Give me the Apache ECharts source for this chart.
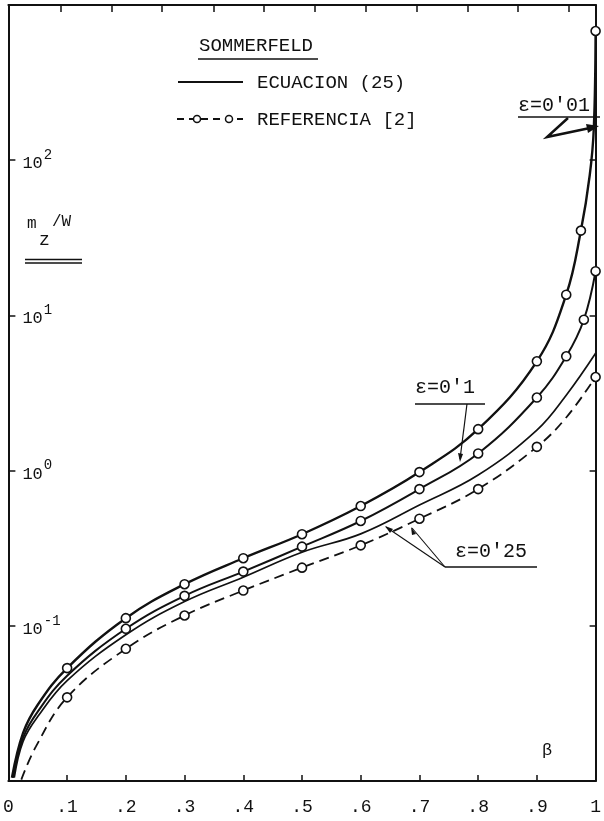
<!DOCTYPE html>
<html><head><meta charset="utf-8">
<script src="https://cdn.jsdelivr.net/npm/echarts@6/dist/echarts.min.js"></script>
<style>html,body{margin:0;padding:0;background:#fff}#c{width:604px;height:821px}</style>
</head><body><div id="c"></div>
<script>
// ---- data ----
const xTickLabels = ['0', '.1', '.2', '.3', '.4', '.5', '.6', '.7', '.8', '.9', '1'];
// tick marks along the top frame (they do not line up with the bottom ticks in the original)
const topTickBeta = [0.089, 0.176, 0.262, 0.349, 0.435, 0.522, 0.608, 0.695, 0.782, 0.868, 0.955];

// ECUACION (25) solid curves
const betaSolid001 = [0.006, 0.025, 0.05, 0.1, 0.2, 0.3, 0.4, 0.5, 0.6, 0.7, 0.8, 0.9, 0.95, 0.975, 0.99, 0.997, 1.0];
const valSolid001  = [0.0105, 0.0204, 0.031, 0.0534, 0.112, 0.1854, 0.2725, 0.389, 0.591, 0.978, 1.849, 5.06, 13.6, 35.2, 80, 162, 680];

const betaSolid01 = [0.008, 0.025, 0.05, 0.1, 0.2, 0.3, 0.4, 0.5, 0.6, 0.7, 0.8, 0.9, 0.95, 0.98, 1.0];
const valSolid01  = [0.0105, 0.019, 0.028, 0.0477, 0.0957, 0.156, 0.2235, 0.3236, 0.4735, 0.760, 1.29, 2.956, 5.45, 9.38, 19.27];

const betaSolid025 = [0.01, 0.025, 0.05, 0.1, 0.2, 0.3, 0.4, 0.5, 0.6, 0.7, 0.8, 0.9, 0.95, 1.0];
const valSolid025  = [0.0105, 0.018, 0.026, 0.0443, 0.0875, 0.1433, 0.2057, 0.2978, 0.391, 0.600, 0.936, 1.822, 3.06, 5.70];

// REFERENCIA [2] points
const betaRef001 = [0.1, 0.2, 0.3, 0.4, 0.5, 0.6, 0.7, 0.8, 0.9, 0.95, 0.975, 1.0];
const valRef001  = [0.0534, 0.112, 0.1854, 0.2725, 0.389, 0.591, 0.978, 1.849, 5.06, 13.59, 35.2, 680];

const betaRef01 = [0.2, 0.3, 0.4, 0.5, 0.6, 0.7, 0.8, 0.9, 0.95, 0.98, 1.0];
const valRef01  = [0.0957, 0.156, 0.2235, 0.3236, 0.4735, 0.760, 1.29, 2.956, 5.45, 9.38, 19.27];

const betaRef025 = [0.1, 0.2, 0.3, 0.4, 0.5, 0.6, 0.7, 0.8, 0.9, 1.0];
const valRef025  = [0.0346, 0.0711, 0.1165, 0.1687, 0.237, 0.330, 0.4898, 0.760, 1.422, 4.01];

// dashed reference curve (eps = 0.25) including its lead-in and intermediate point
const betaDash025 = [0.022, 0.047, 0.1, 0.2, 0.3, 0.4, 0.5, 0.6, 0.7, 0.8, 0.9, 0.95, 1.0];
const valDash025  = [0.0102, 0.0167, 0.0346, 0.0711, 0.1165, 0.1687, 0.237, 0.330, 0.4898, 0.760, 1.422, 2.2, 4.01];

// ---- build ----
const zip = (a, b) => a.map((x, i) => [x, b[i]]);
const INK = '#111';
const FONT = '"Liberation Mono", "DejaVu Sans Mono", monospace';

const chart = echarts.init(document.getElementById('c'), null, {renderer: 'canvas'});

const solid = (name, data, w) => ({
  name, type: 'line', data, showSymbol: false, smooth: 0.4,
  lineStyle: {color: INK, width: w}, z: 3, silent: true
});
const circles = (name, data) => ({
  name, type: 'scatter', data, symbol: 'circle', symbolSize: 9,
  itemStyle: {color: '#fff', borderColor: INK, borderWidth: 1.6, opacity: 1}, z: 5, silent: true
});

function exp10(v) { return Math.round(Math.log10(v)); }

const option = {
  backgroundColor: '#fff',
  animation: false,
  grid: {left: 5, right: 4, top: 5, bottom: 40},
  xAxis: [{
    type: 'value', min: 0, max: 1, interval: 0.1, position: 'bottom',
    axisLine: {show: true, lineStyle: {color: INK, width: 2}},
    axisTick: {show: true, inside: true, length: 6, lineStyle: {color: INK, width: 1.5}},
    splitLine: {show: false},
    axisLabel: {
      margin: 17, color: INK, fontFamily: FONT, fontSize: 18,
      formatter: v => xTickLabels[Math.round(v * 10)] || ''
    }
  }, {
    type: 'value', min: 0, max: 1, interval: 0.1, position: 'top',
    axisLine: {show: true, onZero: false, lineStyle: {color: INK, width: 2}},
    axisTick: {show: true, inside: true, length: 7, customValues: topTickBeta, lineStyle: {color: INK, width: 1.5}},
    splitLine: {show: false}, axisLabel: {show: false}
  }],
  yAxis: [{
    type: 'log', logBase: 10, min: 0.01, max: 1000, position: 'left',
    axisLine: {show: true, lineStyle: {color: INK, width: 2}},
    axisTick: {show: true, inside: true, length: 7, lineStyle: {color: INK, width: 1.5}},
    splitLine: {show: false},
    minorTick: {show: false},
    axisLabel: {
      inside: true, margin: 14, color: INK, fontFamily: FONT,
      formatter: v => {
        const e = exp10(v);
        if (e < -1 || e > 2) return '';
        return '{b|10}{s|' + e + '}';
      },
      rich: {
        b: {fontFamily: FONT, fontSize: 17, color: INK, lineHeight: 24, verticalAlign: 'bottom'},
        s: {fontFamily: FONT, fontSize: 14, color: INK, lineHeight: 24, verticalAlign: 'top', padding: [0, 0, 0, 1]}
      }
    }
  }, {
    type: 'log', logBase: 10, min: 0.01, max: 1000, position: 'right',
    axisLine: {show: true, onZero: false, lineStyle: {color: INK, width: 2}},
    axisTick: {show: true, inside: true, length: 6, lineStyle: {color: INK, width: 1.5}},
    splitLine: {show: false}, axisLabel: {show: false}
  }],
  series: [
    solid('ECUACION (25) ε=0\'01', zip(betaSolid001, valSolid001), 2.4),
    solid('ECUACION (25) ε=0\'1', zip(betaSolid01, valSolid01), 2),
    solid('ECUACION (25) ε=0\'25', zip(betaSolid025, valSolid025), 1.7),
    {
      name: 'REFERENCIA [2] ε=0\'25 (curva)', type: 'line', data: zip(betaDash025, valDash025),
      showSymbol: false, smooth: 0.4, silent: true, z: 3,
      lineStyle: {color: INK, width: 1.8, type: [10, 6]}
    },
    circles('REFERENCIA [2] ε=0\'01', zip(betaRef001, valRef001)),
    circles('REFERENCIA [2] ε=0\'1', zip(betaRef01, valRef01)),
    circles('REFERENCIA [2] ε=0\'25', zip(betaRef025, valRef025))
  ],
  graphic: [
    // title + legend
    {type: 'text', left: 199, top: 36, style: {text: 'SOMMERFELD', font: '19px ' + FONT, fill: INK}},
    {type: 'line', shape: {x1: 198, y1: 59, x2: 318, y2: 59}, style: {stroke: INK, lineWidth: 1.5}},
    {type: 'line', shape: {x1: 178, y1: 82, x2: 243, y2: 82}, style: {stroke: INK, lineWidth: 2}},
    {type: 'text', left: 257, top: 73, style: {text: 'ECUACION (25)', font: '19px ' + FONT, fill: INK}},
    {type: 'line', shape: {x1: 177, y1: 119, x2: 243, y2: 119}, style: {stroke: INK, lineWidth: 1.8, lineDash: [7, 5]}},
    {type: 'circle', shape: {cx: 197, cy: 119, r: 3.5}, style: {fill: '#fff', stroke: INK, lineWidth: 1.5}},
    {type: 'circle', shape: {cx: 229, cy: 119, r: 3.5}, style: {fill: '#fff', stroke: INK, lineWidth: 1.5}},
    {type: 'text', left: 257, top: 110, style: {text: 'REFERENCIA [2]', font: '19px ' + FONT, fill: INK}},
    // y-axis title m_z/W
    {type: 'text', left: 27, top: 216, style: {text: 'm', font: '16px ' + FONT, fill: INK}},
    {type: 'text', left: 39, top: 231, style: {text: 'z', font: '18px ' + FONT, fill: INK}},
    {type: 'text', left: 52, top: 214, style: {text: '/W', font: '16px ' + FONT, fill: INK}},
    {type: 'line', shape: {x1: 25, y1: 259.5, x2: 82, y2: 259.5}, style: {stroke: INK, lineWidth: 1.3}},
    {type: 'line', shape: {x1: 25, y1: 263, x2: 82, y2: 263}, style: {stroke: INK, lineWidth: 1.3}},
    // eps = 0'01 label and zigzag arrow
    {type: 'text', left: 518, top: 96, style: {text: "ε=0'01", font: '20px ' + FONT, fill: INK}},
    {type: 'line', shape: {x1: 518, y1: 117, x2: 600, y2: 117}, style: {stroke: INK, lineWidth: 1.5}},
    {type: 'polyline', shape: {points: [[568, 118], [547, 137], [590, 128]]}, style: {stroke: INK, lineWidth: 2.5, fill: null}},
    {type: 'polygon', shape: {points: [[599, 126], [586, 124], [588, 133]]}, style: {fill: INK}},
    // eps = 0'1
    {type: 'text', left: 415, top: 378, style: {text: "ε=0'1", font: '20px ' + FONT, fill: INK}},
    {type: 'line', shape: {x1: 415, y1: 404, x2: 485, y2: 404}, style: {stroke: INK, lineWidth: 1.5}},
    {type: 'line', shape: {x1: 467, y1: 404, x2: 460, y2: 459}, style: {stroke: INK, lineWidth: 1.2}},
    {type: 'polygon', shape: {points: [[460, 462], [458, 453], [463, 454]]}, style: {fill: INK}},
    // eps = 0'25
    {type: 'text', left: 455, top: 542, style: {text: "ε=0'25", font: '20px ' + FONT, fill: INK}},
    {type: 'line', shape: {x1: 445, y1: 567, x2: 537, y2: 567}, style: {stroke: INK, lineWidth: 1.5}},
    {type: 'line', shape: {x1: 445, y1: 567, x2: 386, y2: 527}, style: {stroke: INK, lineWidth: 1.1}},
    {type: 'line', shape: {x1: 445, y1: 567, x2: 412, y2: 528}, style: {stroke: INK, lineWidth: 1.1}},
    {type: 'polygon', shape: {points: [[385, 526], [393, 529], [390, 533]]}, style: {fill: INK}},
    {type: 'polygon', shape: {points: [[411, 527], [416, 534], [412, 535]]}, style: {fill: INK}},
    // beta
    {type: 'text', left: 542, top: 742, style: {text: 'β', font: '17px ' + FONT, fill: INK}}
  ]
};
chart.setOption(option);
</script>
</body></html>
